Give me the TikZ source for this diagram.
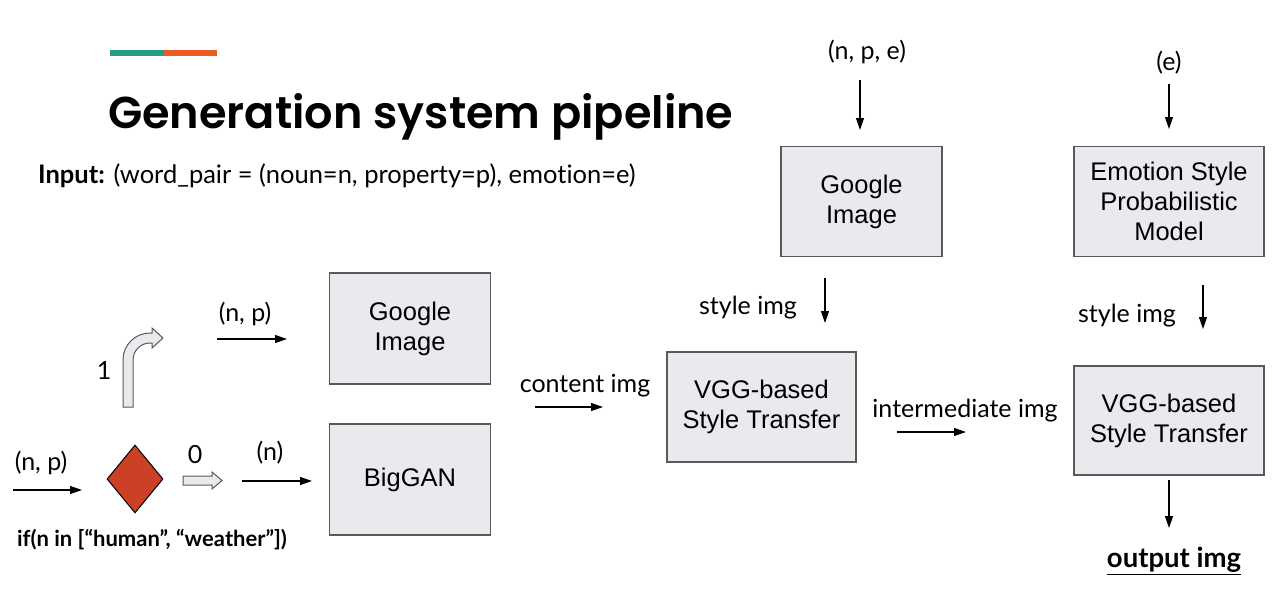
\documentclass[tikz,border=0pt]{standalone}
\usepackage{fontspec}
\setmainfont{Lato}[Ligatures = NoCommon]
\newfontfamily\boxfont{Liberation Sans}
\newfontfamily\headfont{Poppins SemiBold}
\usetikzlibrary{arrows.meta}
\usetikzlibrary{shapes.geometric}
\usetikzlibrary{positioning}
\definecolor{boxfill}{HTML}{E8EAED}
\definecolor{boxline}{HTML}{595959}
\definecolor{barteal}{HTML}{239C85}
\definecolor{barorange}{HTML}{EC5A24}
\definecolor{decred}{HTML}{CC4125}
\tikzset{box/.style = {draw = boxline, fill = boxfill, line width = 1.2, align = center, inner sep = 0, font = \boxfont\fontsize{25.5}{30}\selectfont}}
\tikzset{arr/.style = {line width = 1.1, -{Triangle[length = 12pt, width = 8pt]}}}
\tikzset{lbl/.style = {inner sep = 0, font = \fontsize{25}{30}\selectfont}}
\tikzset{blockarr/.style = {draw = boxline, fill = boxfill, line width = 1}}

\begin{document}
\begin{tikzpicture}[x = 1pt, y = -1pt]
      \useasboundingbox (0, 0) rectangle (1288, 600);

      \fill [barteal] (110, 50) rectangle (164, 56);
      \fill [barorange] (164, 50) rectangle (217, 56);
      \node [anchor = base west, inner sep = 0, font = \headfont\fontsize{44.6}{52}\selectfont] (title) at (108, 128) {Generation system pipeline};
      \node [anchor = base west, inner sep = 0, font = \fontsize{25.5}{30}\selectfont] (input) at (38, 183) {\textbf{Input:} (word\_pair = (noun=n, property=p), emotion=e)};

      \node [box, minimum width = 161, minimum height = 111] (gimg1) at (410, 328.5) {Google\\Image};
      \node [box, minimum width = 161, minimum height = 111] (biggan) at (410, 479.5) {BigGAN};
      \node [box, minimum width = 189, minimum height = 110] (vgg1) at (761.5, 407) {VGG-based\\Style Transfer};
      \node [box, minimum width = 161, minimum height = 110] (gimg2) at (861.5, 201.5) {Google\\Image};
      \node [box, minimum width = 190, minimum height = 110] (emo) at (1169, 201.5) {Emotion Style\\Probabilistic\\Model};
      \node [box, minimum width = 190, minimum height = 109] (vgg2) at (1169, 420.5) {VGG-based\\Style Transfer};

      \node [diamond, draw, fill = decred, line width = 1, inner sep = 0, minimum width = 56, minimum height = 68] (cond) at (135, 479) {};
      \node [inner sep = 0, font = \bfseries\fontsize{22}{26}\selectfont] (condlbl) at (152, 540) {if(n in [“human”, “weather”])};

      \draw [blockarr] (123, 407) -- (123, 360) .. controls (123, 345) and (135, 333) .. (150, 333) -- (152, 333) -- (152, 328) -- (163, 338) -- (152, 348) -- (152, 343) -- (150, 343) .. controls (140.6, 343) and (133, 350.6) .. (133, 360) -- (133, 407) -- cycle;
      \draw [blockarr] (183, 476) -- (212, 476) -- (212, 472) -- (222, 480.5) -- (212, 489) -- (212, 485) -- (183, 485) -- cycle;

      \node [lbl] (np1) at (41, 463) {(n, p)};
      \node [lbl] (np2) at (245, 314) {(n, p)};
      \node [lbl] (one) at (104, 371) {1};
      \node [lbl] (zero) at (195, 455) {0};
      \node [lbl] (n) at (270, 453) {(n)};
      \node [lbl] (content) at (585, 386) {content img};
      \node [lbl] (style1) at (748, 308) {style img};
      \node [lbl] (inter) at (965, 411) {intermediate img};
      \node [lbl] (style2) at (1127, 316) {style img};
      \node [lbl] (npe) at (867, 52) {(n, p, e)};
      \node [lbl] (e) at (1169, 63) {(e)};
      \node [lbl, font = \bfseries\fontsize{27.5}{32}\selectfont] (out) at (1174, 561) {\underline{output img}};

      \coordinate (a1s) at (13, 490);
      \coordinate (a1e) at (82, 490);
      \coordinate (a2s) at (217, 339);
      \coordinate (a2e) at (287, 339);
      \coordinate (a3s) at (242, 481);
      \coordinate (a3e) at (312, 481);
      \coordinate (a4s) at (535, 407);
      \coordinate (a4e) at (603, 407);
      \coordinate (a5s) at (860, 80);
      \coordinate (a5e) at (860, 130);
      \coordinate (a6s) at (825, 278);
      \coordinate (a6e) at (825, 323);
      \coordinate (a7s) at (897, 432);
      \coordinate (a7e) at (966, 432);
      \coordinate (a8s) at (1169, 84);
      \coordinate (a8e) at (1169, 129);
      \coordinate (a9s) at (1203, 285);
      \coordinate (a9e) at (1203, 329);
      \coordinate (a10s) at (1169, 480);
      \coordinate (a10e) at (1169, 528);

      \draw [arr] (a1s) -- (a1e);
      \draw [arr] (a2s) -- (a2e);
      \draw [arr] (a3s) -- (a3e);
      \draw [arr] (a4s) -- (a4e);
      \draw [arr] (a5s) -- (a5e);
      \draw [arr] (a6s) -- (a6e);
      \draw [arr] (a7s) -- (a7e);
      \draw [arr] (a8s) -- (a8e);
      \draw [arr] (a9s) -- (a9e);
      \draw [arr] (a10s) -- (a10e);
    \end{tikzpicture}
\end{document}
